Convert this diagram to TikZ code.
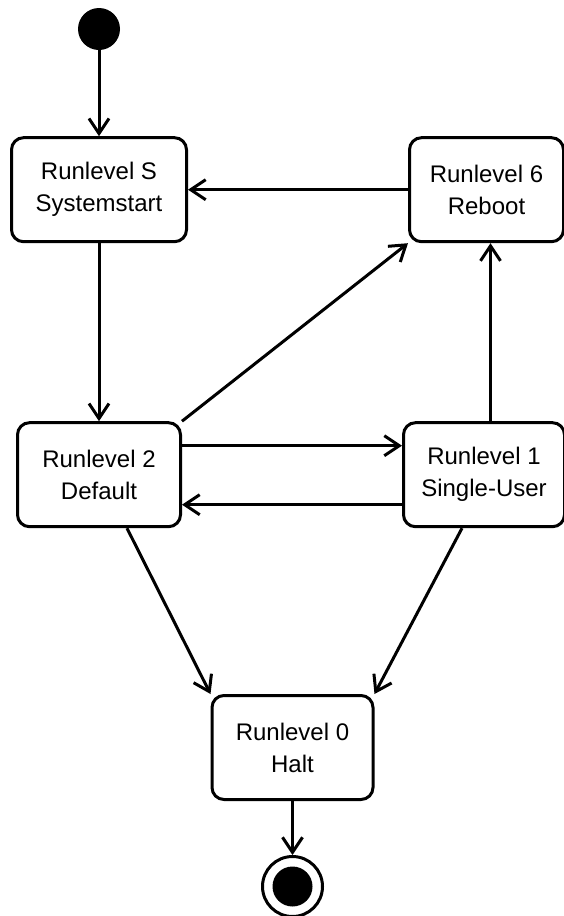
\documentclass[tikz,border=0pt]{standalone}
\usepackage{fontspec}
\setmainfont{Liberation Sans}
\usepackage{tikz}
\usetikzlibrary{positioning,arrows.meta}
\tikzset{
  arrow/.style={-{Straight Barb[length=15pt,width=20pt]}, line width=3pt, draw=black},
  block/.style={
    draw=black,
    fill=white,
    rectangle,
    rounded corners=12pt,
    line width=3pt,
    minimum height=104pt,
    align=center,
    inner sep=0pt,
    font=\fontsize{24}{32}\selectfont
  },
  startdot/.style={
    circle,
    fill=black,
    minimum size=42pt,
    inner sep=0pt
  },
  endring/.style={
    circle,
    draw=black,
    line width=3pt,
    minimum size=60pt,
    inner sep=0pt
  },
  enddot/.style={
    circle,
    fill=black,
    minimum size=40pt,
    inner sep=0pt
  }
}

\begin{document}
\begin{tikzpicture}[x=1pt, y=1pt]
\useasboundingbox (0,0) rectangle (563,-916);

% Start
\node[startdot] (start) at (99,-29) {};

% Upper row
\node[block, minimum width=175pt, below=86pt of start] (rs) {Runlevel S\\Systemstart};
\node[block, minimum width=154pt, right=220pt of rs] (r6) {Runlevel 6\\Reboot};

% Middle row
\node[block, minimum width=163pt, below=178pt of rs] (r2) {Runlevel 2\\Default};
\node[block, minimum width=161pt, right=220pt of r2] (r1) {Runlevel 1\\Single-User};

% Halt and end
\node[block, minimum width=161pt] (r0) at (292.5,-747.5) {Runlevel 0\\Halt};
\node[endring, below=54pt of r0] (stop) {};
\node[enddot] (stopdot) at (stop) {};

% Transitions
\draw[arrow] (start) -- (rs);
\draw[arrow] (rs) -- (r2);
\draw[arrow] (r6) -- (rs);
\draw[arrow] (r2.north east) -- (r6.south west);
\draw[arrow] ([xshift=6.5pt]r1.north) -- ([xshift=4pt]r6.south);
\draw[arrow] ([yshift=29pt]r2.east) -- ([yshift=29pt]r1.west);
\draw[arrow] ([yshift=-30pt]r1.west) -- ([yshift=-30pt]r2.east);
\draw[arrow] ([xshift=28pt]r2.south) -- (r0.north west);
\draw[arrow] ([xshift=-22pt]r1.south) -- (r0.north east);
\draw[arrow] (r0) -- (stop);

\end{tikzpicture}
\end{document}
